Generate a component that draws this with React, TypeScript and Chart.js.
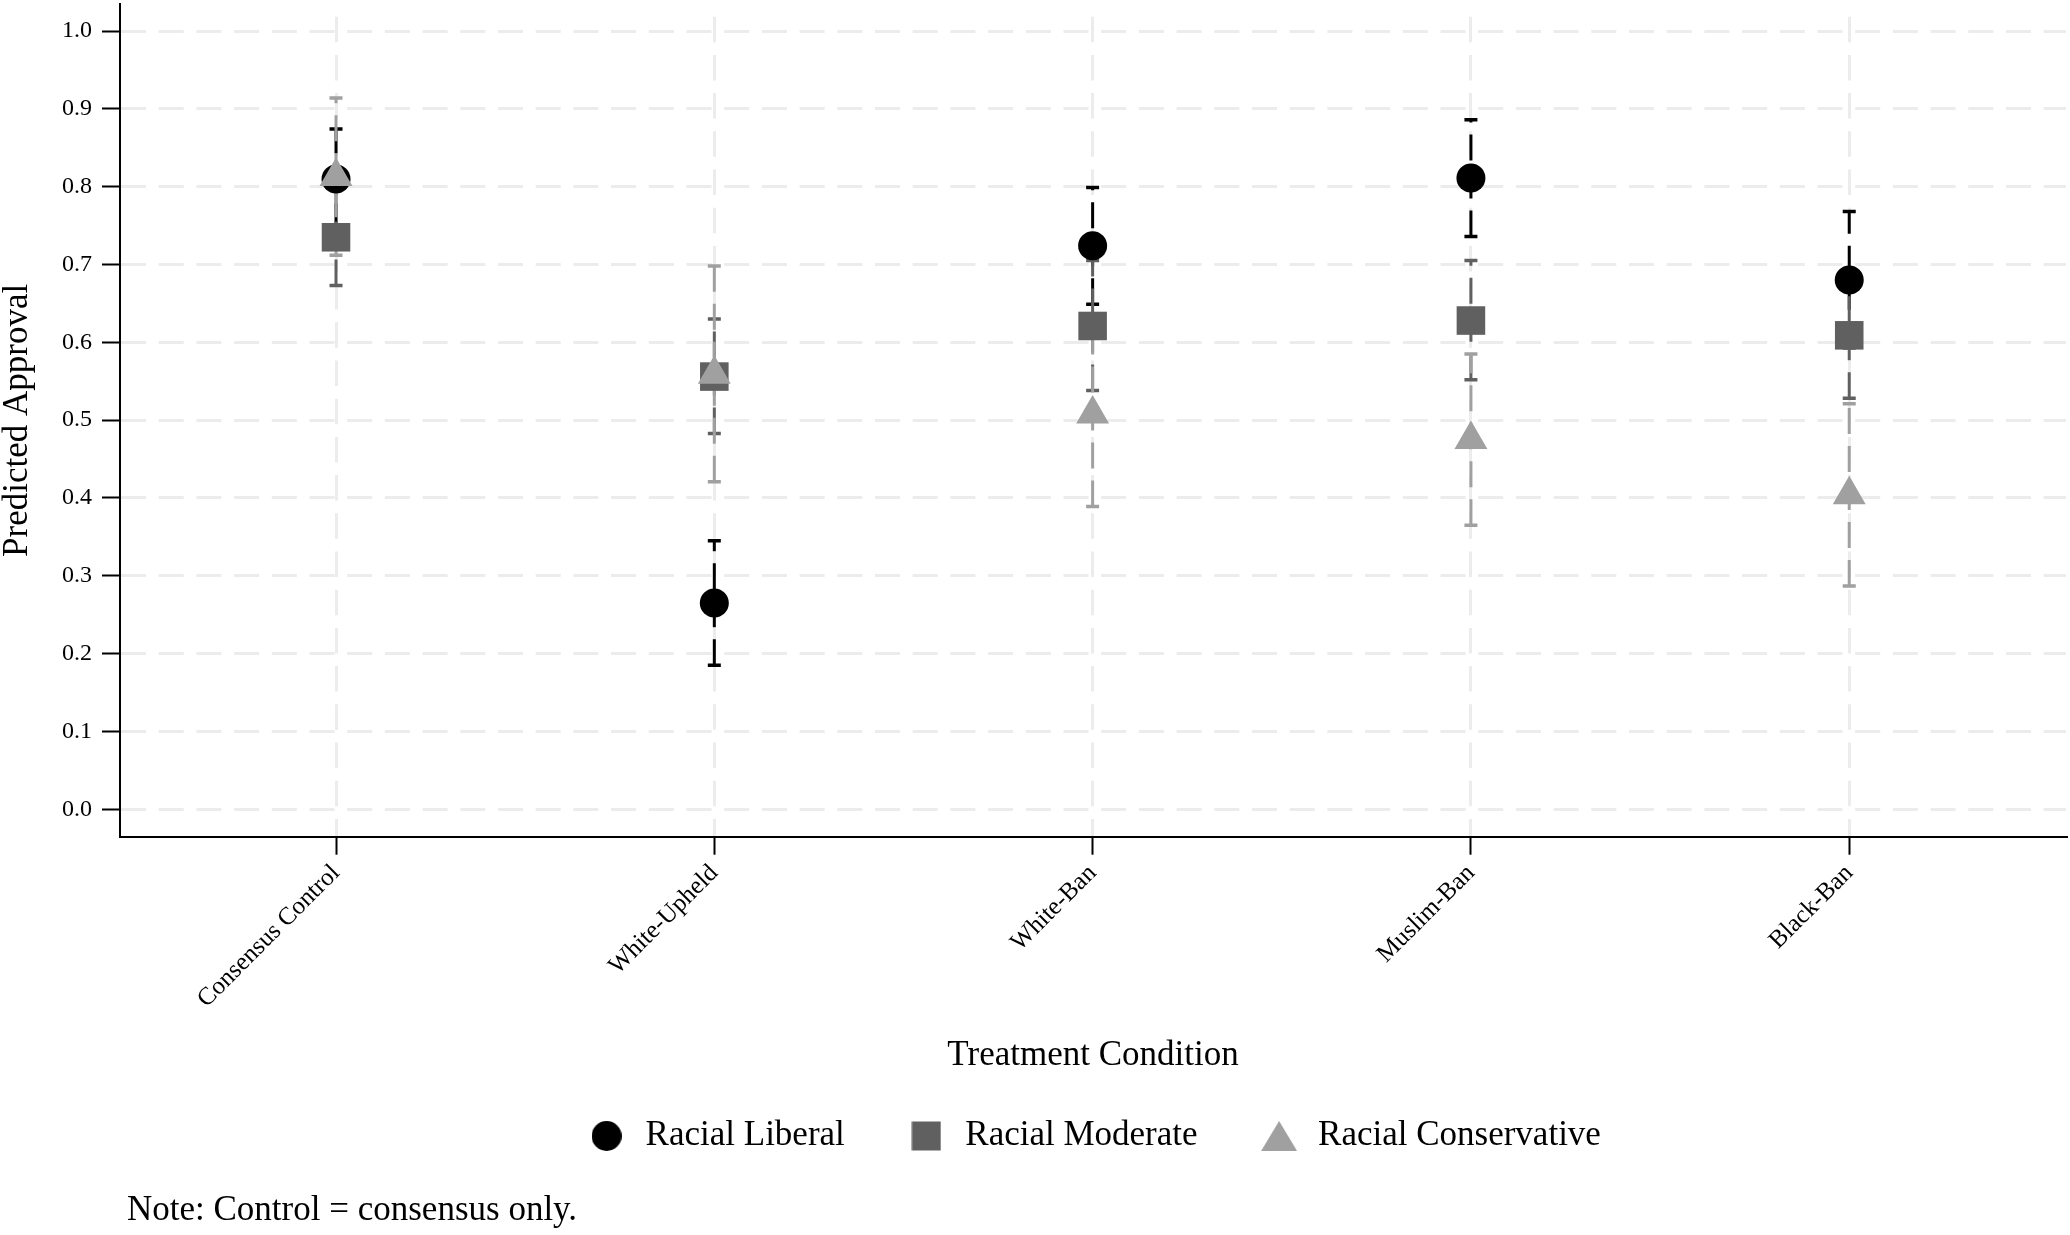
import React, { useEffect, useRef } from 'react';
import { Chart, registerables } from 'chart.js';

Chart.register(...registerables);

const FONT = "'Liberation Serif', 'Times New Roman', serif";

const categories = ['Consensus Control', 'White-Upheld', 'White-Ban', 'Muslim-Ban', 'Black-Ban'];
const seriesNames = ['Racial Liberal', 'Racial Moderate', 'Racial Conservative'];

const liberalEst = [0.810, 0.265, 0.724, 0.811, 0.680];
const liberalLow = [0.745, 0.185, 0.649, 0.736, 0.593];
const liberalHigh = [0.874, 0.345, 0.799, 0.886, 0.768];

const moderateEst = [0.735, 0.556, 0.621, 0.628, 0.609];
const moderateLow = [0.673, 0.483, 0.538, 0.552, 0.528];
const moderateHigh = [0.797, 0.630, 0.705, 0.705, 0.690];

const conservativeEst = [0.813, 0.559, 0.508, 0.475, 0.404];
const conservativeLow = [0.712, 0.421, 0.389, 0.365, 0.287];
const conservativeHigh = [0.914, 0.698, 0.626, 0.585, 0.521];

const yTicks = [0, 0.1, 0.2, 0.3, 0.4, 0.5, 0.6, 0.7, 0.8, 0.9, 1.0];
const xTitle = 'Treatment Condition';
const yTitle = 'Predicted Approval';
const noteText = 'Note: Control = consensus only.';

const seriesColors = ['#000000', '#606060', '#a0a0a0'];
const seriesStyles = ['circle', 'rect', 'triangle'];
const seriesRadius = [14.5, 20.2, 19];

const estimates = [liberalEst, moderateEst, conservativeEst];
const ciLows = [liberalLow, moderateLow, conservativeLow];
const ciHighs = [liberalHigh, moderateHigh, conservativeHigh];

function makeIcon(shape: string, color: string): HTMLCanvasElement {
  const c = document.createElement('canvas');
  const w = shape === 'triangle' ? 36 : 30;
  const h = 30;
  c.width = w;
  c.height = h;
  const g = c.getContext('2d')!;
  g.fillStyle = color;
  g.beginPath();
  if (shape === 'circle') {
    g.arc(w / 2, h / 2, 15, 0, Math.PI * 2);
  } else if (shape === 'rect') {
    g.rect(0.5, 0.5, 29, 29);
  } else {
    g.moveTo(w / 2, 0);
    g.lineTo(w, h);
    g.lineTo(0, h);
    g.closePath();
  }
  g.fill();
  return c;
}

const errorBarPlugin = {
  id: 'errorBars',
  beforeDatasetsDraw(chart: any) {
    const { ctx } = chart;
    const xs = chart.scales.x;
    const ys = chart.scales.y;
    chart.data.datasets.forEach((ds: any, di: number) => {
      const lo = ciLows[di];
      const hi = ciHighs[di];
      const color = seriesColors[di];
      ds.data.forEach((pt: any, i: number) => {
        const x = xs.getPixelForValue(pt.x);
        const yLo = ys.getPixelForValue(lo[i]);
        const yHi = ys.getPixelForValue(hi[i]);
        ctx.save();
        ctx.strokeStyle = color;
        ctx.lineWidth = 3;
        ctx.setLineDash([26, 12]);
        ctx.beginPath();
        ctx.moveTo(x, yLo);
        ctx.lineTo(x, yHi);
        ctx.stroke();
        ctx.setLineDash([]);
        ctx.lineWidth = 3.5;
        ctx.beginPath();
        ctx.moveTo(x - 6.5, yLo);
        ctx.lineTo(x + 6.5, yLo);
        ctx.moveTo(x - 6.5, yHi);
        ctx.lineTo(x + 6.5, yHi);
        ctx.stroke();
        ctx.restore();
      });
    });
  },
};

const notePlugin = {
  id: 'noteText',
  afterDraw(chart: any) {
    const { ctx, chartArea } = chart;
    ctx.save();
    ctx.font = `35px ${FONT}`;
    ctx.fillStyle = '#000';
    ctx.textBaseline = 'middle';
    ctx.textAlign = 'left';
    ctx.fillText(noteText, chartArea.left + 7, chart.height - 24);
    ctx.restore();
  },
};

export default function App() {
  const ref = useRef<HTMLCanvasElement | null>(null);

  useEffect(() => {
    if (!ref.current) return;
    const icons = [
      makeIcon('circle', seriesColors[0]),
      makeIcon('rect', seriesColors[1]),
      makeIcon('triangle', seriesColors[2]),
    ];

    const datasets = seriesNames.map((name, si) => ({
      label: name,
      data: estimates[si].map((v, i) => ({ x: i, y: v })),
      backgroundColor: seriesColors[si],
      borderColor: seriesColors[si],
      pointStyle: seriesStyles[si],
      pointRadius: seriesRadius[si],
      pointHoverRadius: seriesRadius[si],
      pointBorderWidth: 0,
      showLine: false,
      clip: false,
      order: 2 - si,
    }));

    const gridBase = {
      color: '#ececec',
      lineWidth: 3,
      tickColor: '#000',
      tickWidth: 2,
      tickLength: 18,
    };

    const chart = new Chart(ref.current, {
      type: 'scatter',
      data: { datasets: datasets as any },
      plugins: [errorBarPlugin, notePlugin],
      options: {
        responsive: false,
        animation: false,
        layout: { autoPadding: false, padding: { top: 4, right: 4, bottom: 71.5, left: 0 } },
        font: { family: FONT },
        plugins: {
          tooltip: { enabled: false },
          legend: {
            position: 'bottom',
            fullSize: false,
            labels: {
              usePointStyle: true,
              pointStyleWidth: 43,
              padding: 60,
              color: '#000',
              font: { family: FONT, size: 35 },
              sort: (a: any, b: any) => a.datasetIndex - b.datasetIndex,
              generateLabels: (c: any) => {
                const items = (Chart.defaults.plugins.legend.labels as any).generateLabels(c);
                items.forEach((it: any) => {
                  it.pointStyle = icons[it.datasetIndex];
                  it.fontColor = '#000';
                });
                return items;
              },
            },
          },
        } as any,
        scales: {
          x: {
            type: 'linear',
            min: -0.571,
            max: 4.573,
            afterBuildTicks: (s: any) => {
              s.ticks = categories.map((_, i) => ({ value: i }));
            },
            afterFit: (s: any) => {
              s.height = 221.8;
              s.paddingLeft = 0;
              s.paddingRight = 0;
            },
            ticks: {
              autoSkip: false,
              minRotation: 45,
              maxRotation: 45,
              padding: 4,
              color: '#000',
              font: { family: FONT, size: 25 },
              callback: (v: any) => categories[Math.round(Number(v))],
            },
            grid: gridBase,
            border: { color: '#000', width: 2, dash: [25.5, 12.7], dashOffset: 25.5 },
            title: {
              display: true,
              text: xTitle,
              color: '#000',
              font: { family: FONT, size: 35, lineHeight: 1.2 },
              padding: { top: 0, bottom: -18.5 },
            },
          },
          y: {
            type: 'linear',
            min: -0.0352,
            max: 1.0347,
            afterBuildTicks: (s: any) => {
              s.ticks = yTicks.map((v) => ({ value: v }));
            },
            afterFit: (s: any) => {
              s.width = 120;
              s.paddingTop = 0;
              s.paddingBottom = 0;
            },
            ticks: {
              padding: 10,
              color: '#000',
              font: { family: FONT, size: 24 },
              callback: (v: any) => Number(v).toFixed(1),
            },
            grid: gridBase,
            border: { color: '#000', width: 2, dash: [25, 12.7] },
            title: {
              display: true,
              text: yTitle,
              color: '#000',
              font: { family: FONT, size: 35, lineHeight: 1.2 },
              padding: { top: -3.5, bottom: 0 },
            },
          },
        } as any,
      },
    });

    return () => chart.destroy();
  }, []);

  return (
    <div style={{ position: 'fixed', left: 0, top: 0, width: 2070, height: 1235, background: '#fff' }}>
      <canvas ref={ref} width={2070} height={1235} style={{ display: 'block', width: 2070, height: 1235 }} />
    </div>
  );
}
